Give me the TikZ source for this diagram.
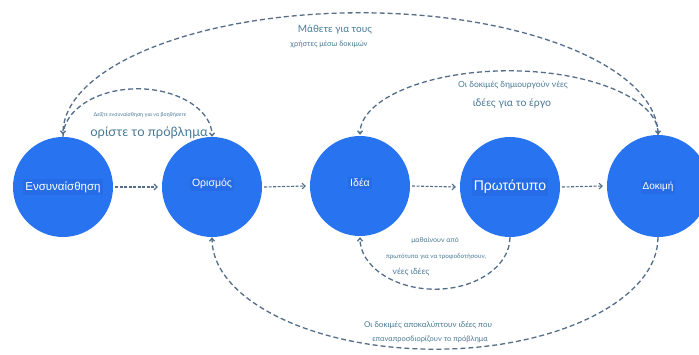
\documentclass[tikz,border=0pt]{standalone}
\usepackage{fontspec}
\setmainfont{Lato}
\newfontfamily\circfont{Liberation Sans}
\usetikzlibrary{arrows.meta}
\definecolor{circ}{RGB}{40,116,240}
\definecolor{circdark}{RGB}{37,108,230}
\definecolor{conncol}{RGB}{84,110,138}
\definecolor{labc}{RGB}{72,122,150}
\tikzset{
 stage/.style={circle,fill=circ,minimum size=100pt,inner sep=0pt},
 stagelab/.style={text=white,fill=circdark,inner sep=2pt,font=\circfont},
 conn/.style={draw=conncol,line width=1.3pt,dash pattern=on 5pt off 3pt,-{Straight Barb[length=3pt,width=5pt]}},
 hconn/.style={draw=conncol,line width=1.1pt,dash pattern=on 3pt off 1.5pt,-{Straight Barb[length=3pt,width=6pt]}},
 lab/.style={text=labc,fill=white,inner sep=1pt,align=center},
}
\begin{document}
\begin{tikzpicture}[x=1pt,y=1pt]
\useasboundingbox (0,0) rectangle (699,354);
\fill[white] (0,0) rectangle (699,354);
\clip (0,0) rectangle (699,354);
% labels (drawn first so that the arcs stay on top)
\node[lab,font=\fontsize{10}{12}\selectfont] (t1) at (335,324) {Μάθετε για τους};
\node[lab,font=\fontsize{7.5}{9}\selectfont] (t2) at (329,310) {χρήστες μέσω δοκιμών};
\node[lab,font=\fontsize{5.3}{6}\selectfont] (t3) at (140,239) {Δείξτε ενσυναίσθηση για να βοηθήσετε};
\node[lab,font=\fontsize{13}{15}\selectfont] (t4) at (149,221) {ορίστε το πρόβλημα};
\node[lab,font=\fontsize{8.5}{10}\selectfont] (t5) at (513,269) {Οι δοκιμές δημιουργούν νέες};
\node[lab,font=\fontsize{10.5}{12}\selectfont] (t6) at (512,251) {ιδέες για το έργο};
\node[lab,font=\fontsize{7}{8}\selectfont] (t7) at (435,114) {μαθαίνουν από};
\node[lab,font=\fontsize{6.3}{8}\selectfont] (t8) at (436,97) {πρωτότυπα για να τροφοδοτήσουν,};
\node[lab,font=\fontsize{8.5}{10}\selectfont] (t9) at (411,82) {νέες ιδέες};
\node[lab,font=\fontsize{8}{10}\selectfont] (t10) at (428,29) {Οι δοκιμές αποκαλύπτουν ιδέες που};
\node[lab,font=\fontsize{7.5}{9}\selectfont] (t11) at (430,15) {επαναπροσδιορίζουν το πρόβλημα};
% stages
\node[stage] (e) at (63,167) {};
\node[stage] (o) at (212,167) {};
\node[stage] (i) at (360,168) {};
\node[stage] (p) at (510,167) {};
\node[stage,minimum size=102pt] (d) at (658,168) {};
\node[stagelab,font=\circfont\fontsize{11.5}{13}\selectfont] (el) at (e.center) {Ενσυναίσθηση};
\node[stagelab,font=\circfont\fontsize{10.5}{12}\selectfont] (ol) at ([yshift=3pt]o.center) {Ορισμός};
\node[stagelab,font=\circfont\fontsize{10.5}{12}\selectfont] (il) at ([yshift=3pt]i.center) {Ιδέα};
\node[stagelab,font=\circfont\fontsize{14}{16}\selectfont] (pl) at (p.center) {Πρωτότυπο};
\node[stagelab,font=\circfont\fontsize{10}{12}\selectfont] (dl) at ([yshift=-1pt]d.center) {Δοκιμή};
% horizontal connectors
\draw[hconn] ([xshift=2pt]e.east) -- ([xshift=-4pt]o.west);
\draw[hconn] ([xshift=2pt]o.east) -- ([xshift=-4pt]i.west);
\draw[hconn] ([xshift=2pt]i.east) -- ([xshift=-4pt]p.west);
\draw[hconn] ([xshift=2pt]p.east) -- ([xshift=-4pt]d.west);
% arcs over the top
\draw[conn] (d.north) arc[start angle=0,end angle=180,x radius=297.5pt,y radius=122pt];
\draw[conn] (e.north) arc[start angle=180,end angle=0,x radius=74.5pt,y radius=48pt];
\draw[conn,{Straight Barb[length=3pt,width=5pt]}-{Straight Barb[length=3pt,width=5pt]}] (d.north) arc[start angle=0,end angle=180,x radius=149pt,y radius=64pt];
% arcs underneath
\draw[conn] (p.south) arc[start angle=0,end angle=-180,x radius=75pt,y radius=52pt];
\draw[conn] (d.south) arc[start angle=0,end angle=-180,x radius=223pt,y radius=112pt];
\end{tikzpicture}
\end{document}
